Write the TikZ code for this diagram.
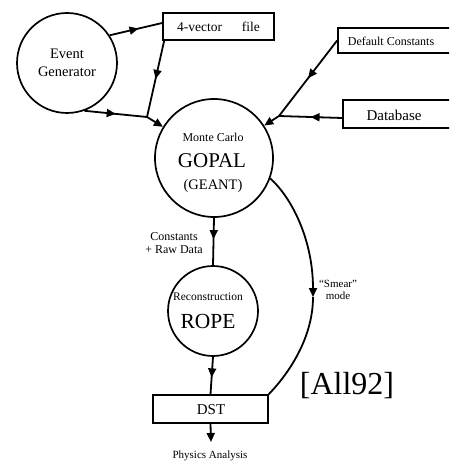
\documentclass[tikz,border=0pt]{standalone}
\usepackage{fontspec}
\setmainfont{Liberation Serif}
\usetikzlibrary{arrows.meta,decorations.markings}
\newcommand{\myfs}[1]{\fontsize{#1}{#1}\selectfont}
\begin{document}
\begin{tikzpicture}[x=1pt,y=-1pt,line width=1.8pt,
  tip/.style={-{Triangle[length=9pt,width=8pt]}},
  midarr/.style={postaction={decorate},decoration={markings,mark=at position #1 with {\arrow{Triangle[length=9pt,width=8pt]}}}},
  proc/.style={circle,draw,line width=1.7pt,inner sep=0pt,minimum size=#1},
  store/.style={rectangle,draw,line width=1.7pt,inner sep=0pt},
  txt/.style={inner sep=0pt,align=center}]
\useasboundingbox (0,0) rectangle (449,462);
\clip (0,0) rectangle (449,462);
% processes
\node[proc=100pt] (evgen) at (67,63) {};
\node[proc=118pt] (gopal) at (214,158) {};
\node[proc=90pt] (rope) at (213,311) {};
% stores
\node[store,minimum width=111pt,minimum height=27pt] (fourvec) at (218.5,26.5) {};
\node[store,minimum width=122pt,minimum height=25pt] (defc) at (399,40.5) {};
\node[store,minimum width=117pt,minimum height=28pt] (db) at (401.5,114) {};
\node[store,minimum width=115pt,minimum height=28pt] (dst) at (210.5,409) {};
% texts
\node[txt,font=\myfs{14.5}] (evgent) at (67,63) {Event\\[3pt]Generator};
\node[txt,font=\myfs{13.5}] (fourvect) at (218.5,27) {4-vector\hspace{20pt}file};
\node[txt,font=\myfs{12}] (defct) at (391,41) {Default Constants};
\node[txt,font=\myfs{15}] (dbt) at (394,115) {Database};
\node[txt,font=\myfs{12}] (mc) at (213,137) {Monte Carlo};
\node[txt,font=\myfs{21}] (gopalt) at (212,161) {GOPAL};
\node[txt,font=\myfs{14.5}] (geant) at (213,186) {(GEANT)};
\node[txt,font=\myfs{11.5}] (recon) at (208,297) {Reconstruction};
\node[txt,font=\myfs{21.5}] (ropet) at (208,321) {ROPE};
\node[txt,font=\myfs{15}] (dstt) at (211,410) {DST};
\node[txt,font=\myfs{11}] (phys) at (210,456) {Physics Analysis};
\node[txt,font=\myfs{12}] (cons) at (174,243) {Constants\\[1pt]+ Raw Data};
\node[txt,font=\myfs{11}] (smear) at (338,290) {``Smear''\\[1pt]mode};
\node[txt,font=\myfs{32}] (ref) at (347,386) {[All92]};
% junctions
\coordinate (j1) at (147,117);
\coordinate (j2) at (279,116);
\coordinate (sm) at (313,297);
\coordinate (pa) at (211,442);
% connectors
\draw[midarr=0.55] (evgen.33) -- ([yshift=3.5pt]fourvec.west);
\draw[midarr=0.5] ([xshift=2pt]fourvec.south west) -- (j1);
\draw[midarr=0.5] (evgen.-70) -- (j1);
\draw[tip] (j1) -- (gopal);
\draw[midarr=0.5] (defc.west) -- (j2);
\draw[midarr=0.5] ([yshift=-4pt]db.west) -- (j2);
\draw[tip] (j2) -- (gopal);
\draw[midarr=0.45] (gopal.south) -- (rope.north);
\draw[midarr=0.55] (rope.south) -- (dst.north);
\draw[tip] (dst.south) -- (pa);
\draw[tip] (gopal.-20) .. controls (292,198) and (313,240) .. (sm);
\draw (sm) .. controls (313,335) and (292,370) .. (dst.north east);
\end{tikzpicture}
\end{document}
